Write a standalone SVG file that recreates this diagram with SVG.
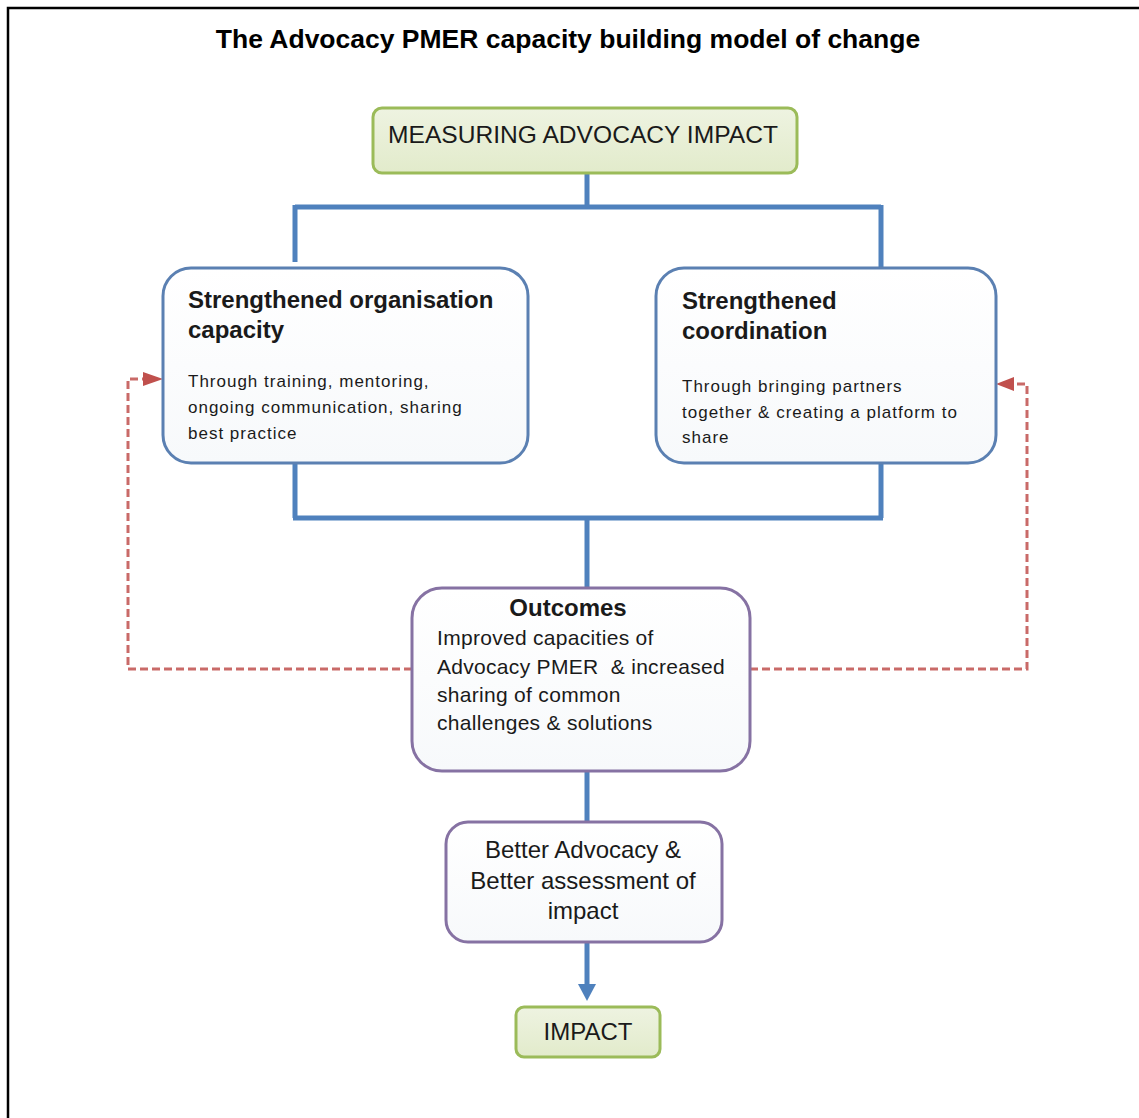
<svg xmlns="http://www.w3.org/2000/svg" width="1139" height="1118" viewBox="0 0 1139 1118">
<style>
.frame{stroke:#000;stroke-width:2.5;fill:none}
.title{font-family:"Liberation Sans",Arial,sans-serif;font-weight:bold;font-size:26.5px;fill:#000}
.green{fill:url(#gGreen);stroke:#9bbb59;stroke-width:3}
.blue{fill:url(#gWhite);stroke:#5b80b2;stroke-width:3}
.purple{fill:url(#gWhite);stroke:#8672a3;stroke-width:3}
.t{font-family:"Liberation Sans",Arial,sans-serif;fill:#1a1a1a}
.big{font-size:24px}
.head{font-size:24px;font-weight:bold}
.small{font-size:17px;letter-spacing:1px}
.mid{font-size:21px;letter-spacing:0.3px}
.conn{stroke:#4f81bd;stroke-width:5;fill:none}
.dash{stroke:#c0504d;stroke-opacity:0.85;stroke-width:3;fill:none;stroke-dasharray:8 4}
</style>
<defs>
<linearGradient id="gGreen" x1="0" y1="0" x2="0" y2="1">
<stop offset="0" stop-color="#eef3e1"/>
<stop offset="1" stop-color="#e2ebcb"/>
</linearGradient>
<linearGradient id="gWhite" x1="0" y1="0" x2="0" y2="1">
<stop offset="0" stop-color="#ffffff"/>
<stop offset="1" stop-color="#f7f9fb"/>
</linearGradient>
</defs>
<rect width="1139" height="1118" fill="#fff"/>
<path class="frame" d="M8,1118 V8 H1139"/>
<text class="title" x="568" y="48" text-anchor="middle">The Advocacy PMER capacity building model of change</text>

<g id="connectors">
<path class="conn" d="M587,173 V207 M295,207 H881 M295,205 V262 M881,205 V268"/>
<path class="conn" d="M295,463 V518 M881,463 V518 M293,518 H883 M587,518 V588"/>
<path class="conn" d="M587,770 V822"/>
<path class="conn" d="M587,942 V986"/>
<polygon points="578,984 596,984 587,1001" fill="#4f81bd"/>
<path class="dash" d="M412,669 H128 V379 H143"/>
<polygon points="143,372 163,379 143,386" fill="#c0504d"/>
<path class="dash" d="M750,669 H1027 V384 H1014"/>
<polygon points="1014,377 996,384 1014,391" fill="#c0504d"/>
</g>

<g id="measuring">
<rect class="green" x="373" y="108" width="424" height="65" rx="9"/>
<text class="t big" x="583" y="143" text-anchor="middle" style="font-size:24.6px">MEASURING ADVOCACY IMPACT</text>
</g>

<g id="org-capacity">
<rect class="blue" x="163" y="268" width="365" height="195" rx="28"/>
<text class="t head" x="188" y="308">Strengthened organisation</text>
<text class="t head" x="188" y="338">capacity</text>
<text class="t small" x="188" y="387">Through training, mentoring,</text>
<text class="t small" x="188" y="413">ongoing communication, sharing</text>
<text class="t small" x="188" y="439">best practice</text>
</g>

<g id="coordination">
<rect class="blue" x="656" y="268" width="340" height="195" rx="28"/>
<text class="t head" x="682" y="309">Strengthened</text>
<text class="t head" x="682" y="339">coordination</text>
<text class="t small" x="682" y="392">Through bringing partners</text>
<text class="t small" x="682" y="418">together &amp; creating a platform to</text>
<text class="t small" x="682" y="443">share</text>
</g>

<g id="outcomes">
<rect class="purple" x="412" y="588" width="338" height="183" rx="30"/>
<text class="t head" x="568" y="616" text-anchor="middle">Outcomes</text>
<text class="t mid" x="437" y="645">Improved capacities of</text>
<text class="t mid" x="437" y="674" xml:space="preserve">Advocacy PMER  &amp; increased</text>
<text class="t mid" x="437" y="702">sharing of common</text>
<text class="t mid" x="437" y="730">challenges &amp; solutions</text>
</g>

<g id="better">
<rect class="purple" x="446" y="822" width="276" height="120" rx="22"/>
<text class="t big" x="583" y="858" text-anchor="middle">Better Advocacy &amp;</text>
<text class="t big" x="583" y="889" text-anchor="middle">Better assessment of</text>
<text class="t big" x="583" y="919" text-anchor="middle">impact</text>
</g>

<g id="impact">
<rect class="green" x="516" y="1007" width="144" height="50" rx="8"/>
<text class="t big" x="588" y="1040" text-anchor="middle">IMPACT</text>
</g>
</svg>
